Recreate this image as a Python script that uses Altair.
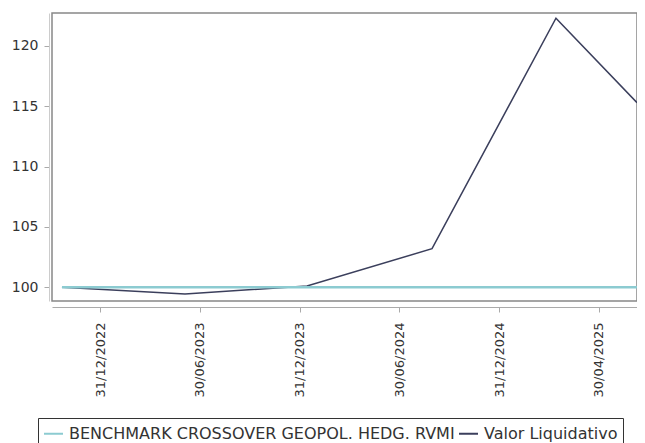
import altair as alt
import pandas as pd

# x positions in tick-slot units (0 = first labelled tick)
x_pos = [-0.381, 0.852, 2.074, 3.327, 4.569, 5.381]
valor = [100.0, 99.45, 100.1, 103.2, 122.3, 115.3]
bench = [100.0, 100.0, 100.0, 100.0, 100.0, 100.0]
tick_pos = [0, 1, 2, 3, 4, 5]
tick_labels = ["31/12/2022", "30/06/2023", "31/12/2023", "30/06/2024", "31/12/2024", "30/04/2025"]
series = ["BENCHMARK CROSSOVER GEOPOL. HEDG. RVMI", "Valor Liquidativo"]
colors = ["#8ccbd1", "#3b3f5c"]

df_v = pd.DataFrame({"x": x_pos, "y": valor, "s": series[1]})
df_b = pd.DataFrame({"x": x_pos, "y": bench, "s": series[0]})

label_expr = " : ".join(
    [f"datum.value == {p} ? '{l}'" for p, l in zip(tick_pos, tick_labels)]
) + " : ''"

x_enc = alt.X("x:Q", scale=alt.Scale(domain=[-0.481, 5.381], nice=False, zero=False),
              axis=alt.Axis(values=tick_pos, labelExpr=label_expr, labelAngle=270,
                            labelAlign="right", labelBaseline="middle", labelPadding=10,
                            labelFontSize=13, labelColor="#333", offset=6,
                            domainColor="#aaa", tickColor="#aaa", tickSize=5,
                            grid=False, title=None, labelFont="DejaVu Sans"))
y_enc = alt.Y("y:Q", scale=alt.Scale(domain=[98.864, 122.735], nice=False, zero=False),
              axis=alt.Axis(values=[100, 105, 110, 115, 120], labelFontSize=14,
                            labelColor="#333", offset=3, domainColor="#ccc",
                            tickColor="#aaa", tickSize=5, grid=False, title=None,
                            labelPadding=6, labelFont="DejaVu Sans"))
color_enc = alt.Color("s:N", scale=alt.Scale(domain=series, range=colors),
                      legend=alt.Legend(orient="none", legendX=-14, legendY=405,
                                        direction="horizontal", title=None,
                                        strokeColor="#333", padding=5,
                                        labelFontSize=16, labelColor="#333",
                                        labelFont="DejaVu Sans", labelOffset=5,
                                        symbolType="stroke", symbolStrokeWidth=2,
                                        symbolSize=361, columnPadding=0,
                                        labelLimit=0, cornerRadius=0))

l_v = alt.Chart(df_v).mark_line(strokeWidth=1.5).encode(x=x_enc, y=y_enc, color=color_enc)
l_b = alt.Chart(df_b).mark_line(strokeWidth=2.5).encode(x=x_enc, y=y_enc, color=color_enc)

chart = alt.layer(l_v, l_b).properties(
    width=585, height=288,
    autosize=alt.AutoSizeParams(type="none"),
    padding={"left": 44, "top": 5, "right": 0, "bottom": 142},
    background="white",
).configure_view(stroke="#888", strokeWidth=1.5)

chart.save("out.html", embed_options={"renderer": "svg", "actions": False})
